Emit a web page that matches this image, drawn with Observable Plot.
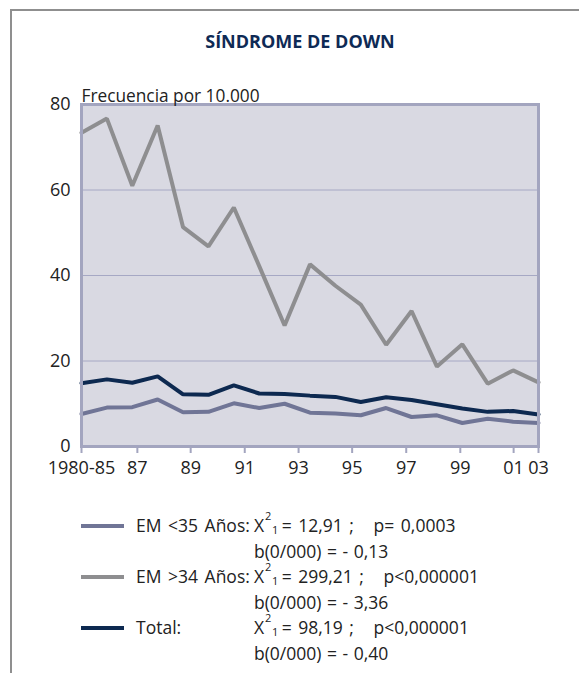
<!DOCTYPE html>
<html lang="es">
<head>
<meta charset="utf-8">
<title>Síndrome de Down</title>
<script src="https://cdn.jsdelivr.net/npm/d3@7"></script>
<script src="https://cdn.jsdelivr.net/npm/@observablehq/plot@0.6"></script>
<style>
  html, body { margin: 0; padding: 0; background: #fff; }
  body { width: 579px; height: 673px; position: relative; overflow: hidden; font-family: "Open Sans", "Noto Sans", sans-serif; color: #222; }
  #marco { position: absolute; left: 10px; top: 9px; right: -4px; bottom: -4px; border-top: 2px solid #8f8f8f; border-left: 2px solid #8f8f8f; }
  #titulo { position: absolute; left: 150px; width: 300px; top: 29px; text-align: center; font-weight: 700; font-size: 18px; line-height: 24px; color: #0e2a55; }
  #grafico { position: absolute; left: 0; top: 80px; }
  #leyenda { position: absolute; left: 0; top: 513px; font-size: 17.5px; line-height: 25.5px; }
  .fila { position: relative; height: 25.5px; white-space: nowrap; }
  .muestra { position: absolute; left: 81px; top: 11px; width: 43px; height: 4px; }
  .serie { position: absolute; left: 136px; word-spacing: 2px; }
  .valor { position: absolute; left: 254px; word-spacing: 1px; }
  .valor.chi { word-spacing: 2px; }
  .sup, .sub { position: relative; font-size: 11px; line-height: 0; }
  .sup { top: -12px; margin-left: 1px; }
  .sub { top: 2px; margin-left: 0.5px; }
  .igual { margin-left: 3.5px; }
</style>
</head>
<body>
<div id="marco"></div>
<div id="titulo">SÍNDROME DE DOWN</div>
<div id="grafico"></div>
<div id="leyenda"></div>
<script>
// Periodos (1980-85 agrupado y luego años sueltos)
const periodos = ["1980-85", "86", "87", "88", "89", "90", "91", "92", "93", "94",
                  "95", "96", "97", "98", "99", "00", "01", "02", "03"];

// Frecuencia por 10.000 nacimientos
const emMenor35 = [7.6, 9.1, 9.2, 11.0, 8.0, 8.1, 10.1, 9.0, 10.0, 7.9,
                   7.7, 7.3, 9.0, 6.9, 7.3, 5.5, 6.5, 5.8, 5.5];
const emMayor34 = [73.4, 76.7, 61.0, 75.1, 51.3, 46.8, 55.9, 42.2, 28.3, 42.6,
                   37.6, 33.2, 23.8, 31.7, 18.7, 23.9, 14.7, 17.8, 15.0];
const total     = [14.8, 15.7, 14.9, 16.4, 12.2, 12.1, 14.3, 12.4, 12.3, 11.9,
                   11.6, 10.4, 11.5, 10.9, 9.9, 8.9, 8.1, 8.3, 7.5];

// Rótulos del eje X y su posición en unidades de periodo
const rotulosX = ["1980-85", "87", "89", "91", "93", "95", "97", "99", "01", "03"];
const posRotulosX = [0, 2.2, 4.3, 6.43, 8.55, 10.66, 12.79, 14.92, 17.02, 18];
const rotulosY = [0, 20, 40, 60, 80];

// Leyenda con los estadísticos de tendencia
const leyenda = [
  {serie: "EM <35 Años:", color: "#707596", chi: "12,91", p: "p= 0,0003", b: "- 0,13"},
  {serie: "EM >34 Años:", color: "#8e8e90", chi: "299,21", p: "p<0,000001", b: "- 3,36"},
  {serie: "Total:", color: "#0d2950", chi: "98,19", p: "p<0,000001", b: "- 0,40"}
];

const filas = (valores) => valores.map((v, i) => ({i, v, periodo: periodos[i]}));

const grafico = Plot.plot({
  width: 579,
  height: 400,
  marginTop: 24,
  marginLeft: 81,
  marginRight: 41,
  marginBottom: 34,
  style: {fontFamily: "'Open Sans', 'Noto Sans', sans-serif", fontSize: "18px", color: "#222", background: "transparent"},
  x: {type: "linear", domain: [0, periodos.length - 1]},
  y: {domain: [0, 80]},
  marks: [
    Plot.frame({fill: "#d9d9e2"}),
    Plot.gridY([20, 40, 60], {stroke: "#a6a8c4", strokeOpacity: 1, strokeWidth: 1}),
    Plot.line(filas(emMayor34), {x: "i", y: "v", stroke: "#8e8e90", strokeWidth: 4, strokeLinejoin: "miter"}),
    Plot.line(filas(emMenor35), {x: "i", y: "v", stroke: "#707596", strokeWidth: 4, strokeLinejoin: "miter"}),
    Plot.line(filas(total), {x: "i", y: "v", stroke: "#0d2950", strokeWidth: 4, strokeLinejoin: "miter"}),
    Plot.frame({stroke: "#a3a5bf", strokeWidth: 3}),
    Plot.axisY(rotulosY, {tickSize: 0, tickPadding: 11, label: null, fill: "#222", fontSize: 18}),
    Plot.axisX(posRotulosX, {
      tickSize: 7, tickPadding: 8, label: null,
      stroke: "#a3a5bf", strokeWidth: 2, fill: "#222", fontSize: 18,
      tickFormat: d => rotulosX[posRotulosX.indexOf(d)]
    }),
    Plot.text(["Frecuencia por 10.000"], {
      frameAnchor: "top-left", textAnchor: "start", lineAnchor: "bottom",
      dy: -3, fontSize: 17.3, fill: "#222"
    })
  ]
});
document.getElementById("grafico").appendChild(grafico);

// Leyenda en HTML
const cont = document.getElementById("leyenda");
for (const d of leyenda) {
  const f1 = document.createElement("div");
  f1.className = "fila";
  f1.innerHTML = `<div class="muestra" style="background:${d.color}"></div>` +
    `<span class="serie">${d.serie}</span>` +
    `<span class="valor chi">X<span class="sup">2</span><span class="sub">1</span><span class="igual">=</span> ${d.chi} ;&nbsp;&nbsp; ${d.p}</span>`;
  const f2 = document.createElement("div");
  f2.className = "fila";
  f2.innerHTML = `<span class="valor">b(0/000) = ${d.b}</span>`;
  cont.appendChild(f1);
  cont.appendChild(f2);
}
</script>
</body>
</html>
